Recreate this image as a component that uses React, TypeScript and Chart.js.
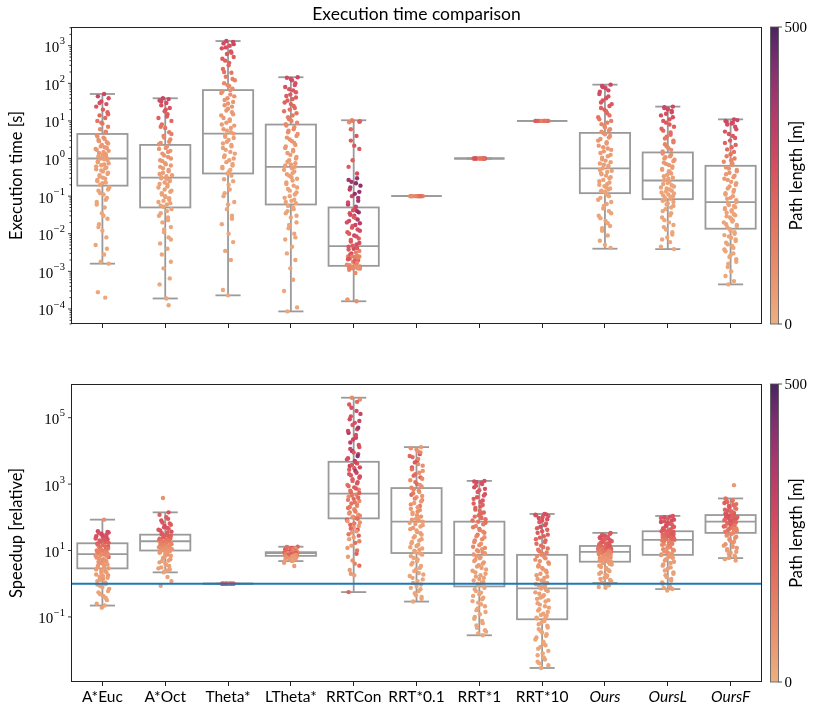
import React, { useEffect, useRef } from 'react';
import { Chart, registerables } from 'chart.js';

Chart.register(...registerables);

// ---------------- data ----------------
const CATEGORIES = ['A*Euc', 'A*Oct', 'Theta*', 'LTheta*', 'RRTCon', 'RRT*0.1', 'RRT*1', 'RRT*10', 'Ours', 'OursL', 'OursF'];
const ITALIC_CATEGORIES = ['Ours', 'OursL', 'OursF'];

// execution time box statistics [s]
const EXEC_LOW = [0.0016, 1.9e-4, 2.3e-4, 8.6e-5, 1.6e-4, 0.1, 1, 10, 0.004, 0.0039, 4.5e-4];
const EXEC_Q1 = [0.19, 0.05, 0.4, 0.06, 0.0014, 0.1, 1, 10, 0.12, 0.083, 0.0136];
const EXEC_MED = [1.0, 0.31, 4.6, 0.6, 0.0047, 0.1, 1, 10, 0.55, 0.26, 0.069];
const EXEC_Q3 = [4.5, 2.3, 66, 8, 0.05, 0.1, 1, 10, 4.8, 1.45, 0.64];
const EXEC_HIGH = [52, 40, 1330, 145, 10.4, 0.1, 1, 10, 92, 24, 11];

// speedup box statistics [relative]
const SPEED_LOW = [0.22, 2.2, 1, 4.8, 0.56, 0.29, 0.028, 0.0029, 1.05, 0.69, 5.9];
const SPEED_Q1 = [2.9, 10, 1, 6.9, 93, 8.4, 0.83, 0.085, 4.6, 7.4, 34];
const SPEED_MED = [7.8, 19, 1, 8.3, 520, 74, 7.4, 0.72, 9.1, 21, 74];
const SPEED_Q3 = [16.5, 30, 1, 8.9, 4700, 760, 74, 7.4, 13.7, 38, 117];
const SPEED_HIGH = [85, 141, 1, 13, 4e5, 13000, 1250, 126, 34, 110, 370];

const BASELINE_SPEEDUP = 1;

// tick exponents
const EXEC_MAJOR_EXP = [-4, -3, -2, -1, 0, 1, 2, 3];
const SPEED_MAJOR_EXP = [-1, 1, 3, 5];
const PATH_TICKS = [0, 500];
const PATH_MIN = 0;
const PATH_MAX = 500;

// sample points: [value, path length m]
const execAEuc: [number, number][] = [[52,290],[45,300],[40,270],[33,280],[28,260],[24,250],[20,230],[17,220],[14,200],[12,190],[10,170],[8.5,150],[7,130],[6,110],[5.2,100],[4.2,90],[3.6,80],[3.1,85],[2.7,70],[2.3,75],[2.0,60],[1.8,65],[1.6,55],[1.4,60],[1.25,50],[1.1,55],[1.0,45],[0.92,50],[0.8,45],[0.7,50],[0.62,40],[0.55,45],[0.48,40],[0.42,35],[0.36,40],[0.31,35],[0.27,38],[0.23,32],[0.2,35],[0.17,30],[0.14,32],[0.11,28],[0.09,30],[0.07,26],[0.05,28],[0.035,25],[0.025,27],[0.018,24],[0.012,26],[0.008,22],[0.005,24],[0.0028,22],[0.0018,25],[0.0016,20],[2.8e-4,22],[2e-4,20],
  [30,270],[15,210],[9,160],[5,120],[3.9,85],[3.3,70],[2.9,75],[2.5,65],[2.1,60],[1.9,55],[1.7,60],[1.5,50],[1.3,55],[1.15,45],[1.05,50],[0.95,42],[0.85,45],[0.75,40],[0.66,42],[0.58,38],[0.52,40],[0.45,36],[0.39,38],[0.33,34],[0.29,36],[0.25,32],[0.22,34],[0.15,30],[0.12,32],[0.08,28],[0.06,30],[0.03,26],[0.015,25],[0.004,22]];
const execAOct: [number, number][] = [[40,300],[38,290],[35,280],[30,270],[26,260],[22,250],[18,240],[15,230],[12,220],[10,200],[8,180],[6.5,160],[5,140],[4,120],[3.2,100],[2.6,90],[2.1,85],[1.8,75],[1.5,80],[1.2,65],[1.0,70],[0.85,60],[0.7,62],[0.6,55],[0.5,58],[0.42,50],[0.36,52],[0.32,45],[0.29,45],[0.25,40],[0.21,42],[0.18,38],[0.15,40],[0.13,35],[0.11,37],[0.095,33],[0.08,35],[0.07,30],[0.06,32],[0.052,30],[0.045,28],[0.035,30],[0.027,26],[0.02,28],[0.015,25],[0.011,27],[0.008,24],[0.0055,26],[0.004,23],[0.0028,25],[0.0018,22],[0.0012,24],[6.5e-4,22],[4.5e-4,20],[1.9e-4,22],[1.25e-4,20],
  [33,280],[20,250],[13,230],[7,170],[4.5,130],[3.6,105],[2.8,95],[2.4,88],[1.9,80],[1.6,70],[1.35,72],[1.1,65],[0.9,60],[0.75,58],[0.65,55],[0.55,52],[0.46,48],[0.39,46],[0.34,44],[0.3,42],[0.27,40],[0.23,40],[0.2,38],[0.17,37],[0.14,36],[0.12,35],[0.1,34],[0.088,33],[0.075,32],[0.065,31],[0.056,30],[0.04,29],[0.03,28],[0.023,27],[0.013,26],[0.007,25]];
const execTheta: [number, number][] = [[1330,290],[1250,300],[1150,280],[1000,260],[850,270],[700,250],[600,240],[500,230],[400,220],[300,200],[240,180],[190,160],[150,140],[120,120],[100,110],[85,100],[72,90],[60,85],[50,80],[40,85],[32,70],[26,75],[21,65],[17,60],[14,62],[11,55],[9,58],[7.5,50],[6,52],[5,45],[4.2,45],[3.5,42],[2.8,45],[2.3,40],[1.9,42],[1.5,38],[1.2,36],[1.0,38],[0.8,34],[0.65,35],[0.55,32],[0.45,33],[0.35,30],[0.28,32],[0.2,28],[0.15,30],[0.1,27],[0.07,28],[0.045,25],[0.03,27],[0.018,24],[0.01,26],[0.006,23],[0.0035,24],[0.002,22],[3.2e-4,22],[2.3e-4,20],
  [1100,290],[900,270],[650,250],[450,230],[350,210],[200,170],[130,130],[90,100],[65,90],[55,85],[45,80],[36,75],[29,72],[24,70],[19,65],[15,62],[12,58],[10,55],[8,52],[6.5,50],[5.5,48],[4.6,46],[3.8,44],[3.1,42],[2.5,40],[2.1,40],[1.7,38],[1.35,36],[1.1,35],[0.9,34],[0.72,33],[0.6,32],[0.5,31],[0.4,30],[0.25,28],[0.12,27],[0.06,26],[0.025,25]];
const execLTheta: [number, number][] = [[145,290],[140,280],[120,270],[100,260],[80,260],[65,250],[50,240],[42,230],[35,220],[28,210],[22,190],[18,170],[14,150],[11,130],[9,110],[7.5,100],[6,90],[5,85],[4,80],[3.2,75],[2.6,70],[2.1,65],[1.7,62],[1.4,58],[1.1,55],[0.9,50],[0.75,48],[0.65,45],[0.55,45],[0.45,42],[0.38,40],[0.32,38],[0.26,40],[0.21,36],[0.17,35],[0.14,34],[0.11,33],[0.09,32],[0.075,30],[0.065,31],[0.055,30],[0.045,28],[0.035,29],[0.027,27],[0.02,28],[0.014,26],[0.01,27],[0.007,25],[0.0045,26],[0.003,24],[0.002,25],[0.0012,23],[6e-4,24],[3e-4,22],[1.1e-4,23],[8.6e-5,22],
  [130,280],[90,260],[70,250],[58,240],[46,230],[38,220],[31,210],[25,200],[20,180],[16,160],[12.5,140],[10,120],[8.2,105],[6.8,95],[5.5,88],[4.5,82],[3.6,76],[2.9,72],[2.3,66],[1.9,62],[1.55,58],[1.25,55],[1.0,52],[0.82,48],[0.7,46],[0.6,44],[0.5,42],[0.41,40],[0.35,38],[0.29,37],[0.23,36],[0.19,35],[0.155,34],[0.125,33],[0.1,32],[0.08,31],[0.07,30],[0.05,29],[0.04,28],[0.03,28],[0.017,27],[0.008,26]];
const execRRTCon: [number, number][] = [[10.4,120],[9.8,200],[9.2,100],[4,250],[3,230],[1.8,240],[0.9,220],[0.4,260],[0.27,380],[0.22,420],[0.17,360],[0.13,400],[0.1,300],[0.075,390],[0.06,340],[0.045,270],[0.04,380],[0.035,250],[0.03,300],[0.026,140],[0.022,280],[0.019,330],[0.016,220],[0.013,260],[0.011,240],[0.009,300],[0.0075,230],[0.0062,250],[0.0052,260],[0.0045,250],[0.004,280],[0.0035,120],[0.003,260],[0.0026,110],[0.0025,120],[0.0024,140],[0.0022,240],[0.002,230],[0.0018,130],[0.0016,210],[0.0015,110],[0.00135,120],[0.0013,100],[0.00125,110],[0.0012,130],[0.00122,90],[0.00128,110],[0.0011,120],[0.0009,100],[1.8e-4,60],[1.6e-4,90],
  [10,140],[9.5,230],[6,200],[2.2,250],[0.6,240],[0.3,400],[0.24,380],[0.19,420],[0.15,330],[0.115,410],[0.09,360],[0.068,280],[0.052,300],[0.042,260],[0.037,400],[0.032,280],[0.028,240],[0.024,350],[0.02,270],[0.017,300],[0.0145,250],[0.012,280],[0.01,230],[0.0085,260],[0.0068,240],[0.0057,270],[0.0048,230],[0.0042,250],[0.0038,240],[0.0032,130],[0.0028,250],[0.0025,100],[0.0025,130],[0.0023,120],[0.0021,250],[0.0019,230],[0.0017,120],[0.00145,100],[0.0014,120],[0.00132,90],[0.00127,130],[0.00118,100],[0.0012,110],[0.00125,80]];
const execRRT01: [number, number][] = [[0.1,120],[0.1,150],[0.1,100],[0.1,170],[0.1,130],[0.1,110],[0.1,160],[0.1,90],[0.1,140],[0.1,120],[0.1,180],[0.1,100]];
const execRRT1: [number, number][] = [[1,200],[1,240],[1,160],[1,220],[1,180],[1,250],[1,150],[1,210],[1,230],[1,170],[1,260],[1,190]];
const execRRT10: [number, number][] = [[10,180],[10,220],[10,140],[10,200],[10,160],[10,240],[10,130],[10,190],[10,210],[10,150],[10,230],[10,170]];
const execOurs: [number, number][] = [[92,290],[85,300],[75,280],[60,270],[45,260],[35,250],[28,240],[22,220],[18,200],[14,170],[11,150],[9,130],[7.5,110],[6,95],[5.2,85],[4.4,80],[3.6,70],[3,72],[2.5,62],[2,65],[1.7,55],[1.4,58],[1.15,50],[0.95,52],[0.8,45],[0.68,48],[0.6,42],[0.5,42],[0.44,40],[0.38,38],[0.32,40],[0.27,36],[0.23,35],[0.2,34],[0.17,33],[0.15,32],[0.135,31],[0.125,30],[0.11,30],[0.09,29],[0.07,28],[0.055,27],[0.04,28],[0.03,26],[0.022,27],[0.016,25],[0.012,26],[0.009,24],[0.0065,25],[0.005,23],[0.0042,22],
  [80,290],[65,280],[52,270],[40,260],[31,250],[25,240],[20,220],[16,190],[12.5,160],[10,140],[8.2,120],[6.8,100],[5.6,90],[4.8,84],[4,78],[3.3,72],[2.7,66],[2.2,62],[1.85,58],[1.55,55],[1.25,52],[1.05,50],[0.88,47],[0.74,45],[0.64,43],[0.55,42],[0.47,40],[0.41,39],[0.35,38],[0.3,37],[0.25,36],[0.21,35],[0.185,34],[0.16,33],[0.14,32],[0.13,31],[0.1,30],[0.08,29],[0.062,28],[0.047,27],[0.035,27],[0.026,26],[0.019,25],[0.014,25]];
const execOursL: [number, number][] = [[24,290],[22,300],[20,280],[17,270],[14,260],[11,250],[9,240],[7,220],[5.5,200],[4.3,180],[3.4,150],[2.7,130],[2.1,110],[1.7,95],[1.35,85],[1.15,75],[1.0,70],[0.85,62],[0.72,58],[0.62,52],[0.53,50],[0.46,45],[0.4,46],[0.34,42],[0.29,40],[0.24,38],[0.21,36],[0.18,37],[0.16,34],[0.14,35],[0.125,33],[0.11,32],[0.1,33],[0.09,31],[0.085,30],[0.075,30],[0.065,29],[0.055,28],[0.045,29],[0.035,27],[0.027,28],[0.02,26],[0.015,27],[0.011,25],[0.008,26],[0.006,24],[0.0045,23],[0.0039,22],
  [23,290],[21,280],[18.5,280],[15.5,270],[12.5,260],[10,250],[8,230],[6.2,210],[4.9,190],[3.8,160],[3,140],[2.4,120],[1.9,100],[1.55,90],[1.25,80],[1.08,74],[0.93,66],[0.78,60],[0.67,55],[0.57,51],[0.5,48],[0.43,46],[0.37,44],[0.31,41],[0.27,39],[0.225,37],[0.195,36],[0.17,35],[0.15,34],[0.133,33],[0.118,32],[0.105,32],[0.095,31],[0.08,30],[0.07,29],[0.06,29],[0.05,28],[0.04,28],[0.031,27],[0.023,26],[0.017,26],[0.013,25],[0.0095,25],[0.007,24]];
const execOursF: [number, number][] = [[11,290],[10,300],[9,280],[8,270],[6,260],[4.5,250],[3.5,240],[2.6,220],[2,200],[1.5,170],[1.15,140],[0.9,110],[0.75,95],[0.58,85],[0.5,75],[0.42,70],[0.35,62],[0.29,58],[0.24,52],[0.2,50],[0.16,46],[0.13,44],[0.11,42],[0.09,40],[0.078,38],[0.062,37],[0.055,36],[0.048,35],[0.042,34],[0.036,33],[0.031,32],[0.027,32],[0.023,31],[0.02,30],[0.017,30],[0.015,29],[0.012,29],[0.01,28],[0.0085,28],[0.007,27],[0.0058,27],[0.0047,26],[0.0038,26],[0.003,25],[0.0024,25],[0.0018,24],[0.0013,24],[0.001,23],[7.5e-4,23],[5.5e-4,22],[4.5e-4,22],
  [10.5,290],[9.5,290],[8.5,280],[7,270],[5.2,250],[4,240],[3,230],[2.3,210],[1.75,190],[1.3,160],[1.0,130],[0.82,100],[0.67,90],[0.54,80],[0.46,72],[0.38,66],[0.32,60],[0.27,55],[0.22,51],[0.18,48],[0.145,45],[0.12,43],[0.1,41],[0.085,39],[0.07,38],[0.058,37],[0.051,36],[0.045,35],[0.039,34],[0.033,33],[0.029,32],[0.025,31],[0.021,31],[0.018,30],[0.016,30],[0.0135,29],[0.011,29],[0.0092,28],[0.0078,28],[0.0064,27],[0.0052,27],[0.0042,26],[0.0034,26],[0.0027,25],[0.0021,25],[0.0016,24]];

const spdAEuc: [number, number][] = [[85,90],[38,280],[35,260],[32,300],[30,250],[27,270],[25,240],[22,260],[20,230],[18,220],[16,240],[14.5,180],[13,260],[12,150],[11,220],[10,120],[9.5,200],[9,100],[8.5,160],[8,90],[7.5,110],[7,80],[6.4,200],[5.8,70],[5.2,100],[4.7,60],[4.2,90],[3.8,50],[3.4,80],[3.1,50],[2.7,50],[2.4,70],[2.1,40],[1.8,60],[1.6,45],[1.4,70],[1.2,40],[1.0,55],[0.85,35],[0.7,50],[0.55,30],[0.42,45],[0.32,30],[0.25,40],[0.22,30],[0.19,40],
  [36,270],[33,250],[29,280],[26,260],[23,250],[21,240],[19,230],[17,220],[15,200],[13.5,190],[12.5,170],[11.5,160],[10.5,140],[9.8,150],[9.2,120],[8.7,110],[8.2,130],[7.8,100],[7.2,90],[6.8,95],[6.1,80],[5.5,85],[5,70],[4.5,75],[4,65],[3.6,60],[3.2,58],[2.9,55],[2.5,52],[2.2,50],[1.9,48],[1.7,46],[1.5,44],[1.3,42],[1.1,40],[0.95,38],[0.8,36],[0.6,34],[0.48,32],[0.37,30]];
const spdAOct: [number, number][] = [[380,80],[141,250],[120,220],[100,230],[80,260],[65,240],[55,270],[48,250],[42,230],[37,260],[33,240],[29,220],[27,250],[25,200],[23.5,230],[22,170],[21,210],[20,130],[19.5,190],[18.5,150],[17,90],[16,160],[15,80],[14,120],[13,70],[12,100],[11,60],[10.5,90],[10,55],[9.5,60],[8.5,50],[7.5,80],[6.5,45],[5.5,60],[4.8,40],[4,55],[3.4,40],[2.9,45],[2.5,35],[2.2,40],[1.2,35],[0.87,40],
  [90,240],[70,250],[60,230],[50,260],[45,240],[40,250],[35,230],[31,240],[28,220],[26,230],[24,210],[22.5,200],[21.5,180],[20.5,170],[19,160],[18,150],[17.5,140],[16.5,130],[15.5,120],[14.5,110],[13.5,100],[12.5,95],[11.5,85],[11,80],[10.2,75],[9.8,70],[9,65],[8,60],[7,55],[6,50],[5,48],[4.4,45],[3.7,42],[3.1,40],[2.7,38],[2.35,36],[1.6,34]];
const spdTheta: [number, number][] = [[1,230],[1,260],[1,200],[1,280],[1,240],[1,210],[1,270],[1,220],[1,250],[1,190],[1,260],[1,230]];
const spdLTheta: [number, number][] = [[13,200],[12.5,110],[12,230],[11.5,90],[11,250],[10.5,120],[10,220],[9.6,260],[9.3,80],[9.1,240],[8.9,200],[8.7,100],[8.5,270],[8.4,150],[8.3,230],[8.2,90],[8.0,250],[7.8,120],[7.6,220],[7.4,80],[7.2,200],[7.0,100],[6.9,140],[6.7,70],[6.4,90],[6.0,60],[5.6,80],[5.2,50],[4.8,60],[3.4,50],
  [12.8,180],[11.8,240],[10.8,130],[9.8,200],[9.4,110],[9.0,250],[8.8,90],[8.6,220],[8.45,120],[8.35,260],[8.25,80],[8.1,200],[7.9,140],[7.7,230],[7.5,90],[7.3,210],[7.1,70],[6.8,110],[6.6,60],[6.2,80],[5.8,55],[5.4,65],[5.0,50],[4.3,55]];
const spdRRTCon: [number, number][] = [[4e5,110],[3.5e5,90],[2.5e5,240],[1.6e5,280],[1.1e5,260],[8e4,300],[6e4,250],[4.5e4,270],[3.5e4,380],[2.5e4,290],[1.8e4,330],[1.3e4,260],[1e4,400],[8e3,300],[6e3,280],[5e3,350],[4200,260],[3500,300],[3000,240],[2500,380],[2000,250],[1700,280],[1400,230],[1150,270],[950,150],[800,240],[680,120],[580,210],[480,130],[420,90],[360,200],[310,80],[260,170],[220,70],[190,160],[160,60],[140,150],[120,70],[105,50],[95,140],[85,230],[70,80],[60,200],[50,60],[42,250],[35,70],[28,210],[22,50],[17,180],[12,60],[8,220],[5,80],[3.5,180],[2,60],[1.8,40],[0.56,200],
  [3e5,200],[2e5,260],[1.3e5,300],[9e4,280],[7e4,260],[5e4,380],[4e4,290],[3e4,270],[2.2e4,300],[1.5e4,260],[1.15e4,290],[9e3,250],[7e3,420],[5.5e3,260],[4.6e3,290],[3.8e3,250],[3.2e3,270],[2.7e3,230],[2.2e3,300],[1.85e3,240],[1.55e3,260],[1.25e3,220],[1.05e3,250],[870,200],[740,230],[630,180],[540,210],[450,160],[390,190],[335,140],[285,170],[240,120],[205,150],[175,100],[150,130],[130,90],[112,110],[100,80],[90,180],[77,70],[65,150],[55,60],[46,200],[38,60],[31,150],[25,50],[19,120],[14,50],[10,160],[6.5,50],[4,120],[2.6,50]];
const spdRRT01: [number, number][] = [[13000,60],[12000,90],[10000,70],[8000,260],[6500,200],[5000,280],[4000,100],[3200,240],[2500,70],[2000,180],[1600,220],[1300,80],[1000,200],[850,90],[700,110],[580,70],[480,200],[400,60],[330,100],[270,50],[220,150],[180,60],[150,90],[125,50],[105,80],[90,45],[80,70],[68,50],[58,40],[48,60],[40,38],[33,50],[27,35],[22,45],[18,35],[15,40],[12.5,30],[10.5,38],[9,30],[7.5,35],[6,30],[4.8,38],[3.8,28],[3,34],[2.4,30],[1.9,28],[1.5,32],[1.2,26],[0.95,30],[0.75,26],[0.6,28],[0.45,25],[0.35,26],[0.29,25],
  [11000,80],[9000,100],[7000,200],[5700,120],[4500,240],[3600,90],[2800,160],[2200,80],[1800,200],[1450,100],[1150,180],[950,80],[780,120],[640,90],[530,150],[440,70],[365,110],[300,60],[245,90],[200,55],[165,80],[138,50],[115,70],[98,48],[85,60],[74,45],[63,55],[53,42],[44,50],[36,40],[30,45],[24.5,38],[20,42],[16.5,36],[13.7,40],[11.5,34],[9.8,36],[8.2,32],[6.8,34],[5.4,30],[4.3,32],[3.4,28],[2.7,30],[2.1,27],[1.7,29],[1.35,26],[1.05,28],[0.85,25],[0.68,27],[0.52,25],[0.4,26]];
const spdRRT1: [number, number][] = [[1250,260],[1150,280],[1000,250],[800,270],[650,230],[500,260],[400,240],[320,250],[260,220],[210,230],[170,200],[140,210],[115,180],[95,190],[80,170],[68,180],[55,100],[45,170],[37,90],[30,150],[25,80],[20,130],[16,70],[13,110],[11,60],[9.5,90],[8.3,55],[6.8,60],[5.8,50],[4.8,55],[4,45],[3.3,50],[2.7,40],[2.2,45],[1.8,38],[1.5,40],[1.25,35],[1.05,38],[0.9,33],[0.75,35],[0.6,30],[0.48,33],[0.38,28],[0.3,30],[0.24,27],[0.18,28],[0.14,25],[0.1,27],[0.075,25],[0.055,26],[0.04,24],[0.032,25],[0.028,24],
  [1200,270],[1080,260],[900,250],[720,260],[580,240],[450,250],[360,230],[290,240],[235,210],[190,220],[155,190],[128,200],[105,170],[88,180],[74,160],[62,150],[50,140],[41,130],[34,120],[27,110],[22,100],[18,95],[14.5,90],[12,85],[10.2,80],[8.8,75],[7.6,70],[6.3,65],[5.3,60],[4.4,55],[3.6,52],[3,48],[2.45,45],[2,42],[1.65,40],[1.38,38],[1.15,36],[0.98,35],[0.82,34],[0.68,33],[0.54,32],[0.43,31],[0.34,30],[0.27,29],[0.21,28],[0.16,27],[0.12,26],[0.088,25],[0.065,25],[0.047,24],[0.036,24]];
const spdRRT10: [number, number][] = [[126,260],[120,280],[110,240],[95,270],[80,250],[65,230],[52,260],[42,220],[34,240],[27,210],[22,200],[18,190],[14,180],[11.5,160],[9.5,140],[8,120],[6.8,100],[5.8,80],[4.8,90],[4,70],[3.3,75],[2.7,60],[2.2,65],[1.8,55],[1.5,58],[1.25,50],[1.05,52],[0.9,45],[0.8,48],[0.65,42],[0.55,40],[0.45,42],[0.38,38],[0.32,36],[0.26,37],[0.21,34],[0.17,35],[0.14,32],[0.115,33],[0.1,30],[0.09,31],[0.075,30],[0.06,29],[0.048,28],[0.038,29],[0.03,27],[0.024,28],[0.018,26],[0.014,27],[0.011,25],[0.008,26],[0.006,24],[0.0045,25],[0.0035,23],[0.0029,24],
  [123,270],[115,260],[102,250],[88,260],[72,240],[58,250],[47,230],[38,240],[30,220],[24.5,210],[20,200],[16,190],[12.7,170],[10.5,150],[8.7,130],[7.4,110],[6.3,95],[5.3,85],[4.4,80],[3.6,72],[3,68],[2.45,62],[2,58],[1.65,55],[1.38,52],[1.15,50],[0.97,48],[0.85,46],[0.72,44],[0.6,42],[0.5,40],[0.41,39],[0.35,37],[0.29,36],[0.235,35],[0.19,34],[0.155,33],[0.125,32],[0.108,31],[0.095,30],[0.082,30],[0.068,29],[0.054,28],[0.043,28],[0.034,27],[0.027,27],[0.021,26],[0.016,26],[0.0125,25],[0.0095,25],[0.007,24],[0.0052,24],[0.004,23]];
const spdOurs: [number, number][] = [[34,250],[30,230],[27,260],[25,220],[23,270],[21,240],[19,210],[17.5,250],[16,200],[15,230],[14,190],[13.5,230],[13,160],[12.5,250],[12,140],[11.5,210],[11,200],[10.5,120],[10,240],[9.6,150],[9.3,190],[8.8,120],[8.4,90],[8,110],[7.5,80],[7,100],[6.5,70],[6,90],[5.6,60],[5.2,80],[4.8,60],[4.4,60],[4,50],[3.5,55],[3,45],[2.6,50],[2.2,40],[1.9,50],[1.6,45],[1.4,40],[1.2,45],[1.05,40],[0.9,35],[0.8,40],[0.75,35],
  [32,240],[28,250],[26,230],[24,260],[22,220],[20,250],[18,230],[16.5,240],[15.5,210],[14.5,220],[13.8,200],[13.2,240],[12.8,180],[12.2,230],[11.8,170],[11.2,220],[10.8,150],[10.2,200],[9.8,130],[9.4,170],[9.0,110],[8.6,140],[8.2,100],[7.8,120],[7.2,90],[6.8,85],[6.2,80],[5.8,75],[5.4,70],[5,65],[4.6,60],[4.2,55],[3.8,52],[3.2,50],[2.8,48],[2.4,45],[2.0,42],[1.75,40],[1.5,38],[1.3,36],[1.1,35],[0.95,34]];
const spdOursL: [number, number][] = [[110,250],[100,270],[90,230],[80,260],[72,280],[65,240],[58,250],[52,220],[47,260],[43,230],[40,210],[36,240],[34,200],[32,250],[30,190],[28,230],[26.5,180],[25,220],[23.5,170],[22,210],[20,140],[18.5,100],[17,160],[15.5,90],[14,130],[12.5,80],[11,110],[10,70],[9,90],[8.2,60],[7.6,80],[7,60],[6,50],[5,60],[4.2,45],[3.5,50],[2.8,40],[2.2,45],[1.8,38],[1.4,40],[1.1,35],[0.9,38],[0.75,33],[0.69,35],[0.62,32],
  [105,260],[95,240],[85,270],[76,250],[68,260],[62,230],[55,260],[50,240],[45,250],[41,220],[38,240],[35,230],[33,210],[31,240],[29,200],[27,220],[25.5,190],[24,210],[22.5,180],[21,200],[19,150],[17.5,130],[16,140],[14.8,110],[13.3,120],[12,95],[10.5,100],[9.5,80],[8.6,85],[7.8,70],[7.3,65],[6.5,60],[5.5,55],[4.6,50],[3.8,48],[3.1,45],[2.5,42],[2,40],[1.6,38],[1.25,36],[1.0,35],[0.82,34]];
const spdOursF: [number, number][] = [[930,60],[370,140],[330,120],[290,200],[250,170],[220,230],[190,150],[170,210],[150,250],[135,220],[125,260],[112,240],[105,210],[100,270],[95,200],[90,250],[86,230],[82,190],[78,260],[70,220],[65,170],[60,240],[55,150],[50,210],[46,130],[42,200],[39,110],[36,100],[32,110],[28,80],[24,100],[20,70],[17,80],[14,60],[12,70],[10,50],[8.5,60],[7,45],[6,50],[5,40],
  [350,180],[310,160],[270,220],[235,190],[205,240],[180,170],[160,230],[142,200],[130,250],[118,230],[108,260],[102,220],[97,250],[92,210],[88,240],[84,200],[80,230],[75,250],[72,210],[68,190],[63,230],[58,160],[53,200],[48,140],[44,180],[40,120],[37,160],[34,110],[30,100],[26,90],[22,85],[18.5,75],[15.5,70],[13,60],[11,55],[9.2,50],[7.8,48],[6.5,45],[5.5,42]];

const EXEC_POINTS = [execAEuc, execAOct, execTheta, execLTheta, execRRTCon, execRRT01, execRRT1, execRRT10, execOurs, execOursL, execOursF];
const SPEED_POINTS = [spdAEuc, spdAOct, spdTheta, spdLTheta, spdRRTCon, spdRRT01, spdRRT1, spdRRT10, spdOurs, spdOursL, spdOursF];

// horizontal jitter (category units) for the strip points
const JITTER = [0.03,-0.08,0.11,-0.02,0.07,-0.11,0.01,0.09,-0.05,0.05,-0.09,0.0,0.1,-0.04,0.06,-0.1,0.02,-0.07,0.08,-0.01,0.04,-0.12,0.11,-0.06,0.0,0.07,-0.03,0.09,-0.08,0.03,-0.11,0.05,-0.02,0.1,-0.05,0.01,-0.09,0.06,-0.04,0.12,-0.07,0.02,0.08,-0.1,0.04,-0.01,0.09,-0.06,0.0,0.07,-0.12,0.03,-0.03,0.11,-0.08,0.05,-0.05,0.1,-0.02,0.06,-0.09,0.04,-0.06,0.1,-0.03,0.08,-0.1,0.02,0.06,-0.07,0.01];
const JITTER_SCALE = 0.9;

// ---------------- style ----------------
const SANS = 'Lato, "Open Sans", "DejaVu Sans", sans-serif';
const SERIF = '"Liberation Serif", "DejaVu Serif", serif';
const BOX_COLOR = '#9a9a9a';
const SPINE = '#222222';
const FLARE: [number, string][] = [
  [0.0, '#EDAF80'], [0.15, '#EA9470'], [0.3, '#E57A62'], [0.45, '#DE5F5E'], [0.55, '#D34B61'],
  [0.65, '#BF3F67'], [0.75, '#A6376D'], [0.85, '#873070'], [0.93, '#682A6B'], [1.0, '#4B2462'],
];

function hexRgb(h: string) {
  return [parseInt(h.slice(1, 3), 16), parseInt(h.slice(3, 5), 16), parseInt(h.slice(5, 7), 16)];
}
function flare(t: number) {
  const v = Math.max(0, Math.min(1, t));
  for (let i = 1; i < FLARE.length; i++) {
    if (v <= FLARE[i][0]) {
      const [t0, c0] = FLARE[i - 1];
      const [t1, c1] = FLARE[i];
      const f = (v - t0) / (t1 - t0);
      const a = hexRgb(c0), b = hexRgb(c1);
      return `rgb(${Math.round(a[0] + (b[0] - a[0]) * f)},${Math.round(a[1] + (b[1] - a[1]) * f)},${Math.round(a[2] + (b[2] - a[2]) * f)})`;
    }
  }
  return FLARE[FLARE.length - 1][1];
}

type PanelCfg = {
  low: number[]; q1: number[]; med: number[]; q3: number[]; high: number[];
  majors: number[]; minors: boolean; yLabel: string; title?: string;
};

function line(ctx: CanvasRenderingContext2D, x0: number, y0: number, x1: number, y1: number) {
  ctx.beginPath(); ctx.moveTo(x0, y0); ctx.lineTo(x1, y1); ctx.stroke();
}

function makePlugin(cfg: PanelCfg) {
  return {
    id: 'panelDecor',
    beforeDatasetsDraw(chart: any) {
      const ctx: CanvasRenderingContext2D = chart.ctx;
      const xs = chart.scales.x, ys = chart.scales.y;
      const unit = xs.getPixelForValue(1) - xs.getPixelForValue(0);
      ctx.save();
      ctx.strokeStyle = BOX_COLOR;
      ctx.lineWidth = 1.8;
      CATEGORIES.forEach((_, i) => {
        const cx = xs.getPixelForValue(i);
        const yl = ys.getPixelForValue(cfg.low[i]);
        const y1 = ys.getPixelForValue(cfg.q1[i]);
        const ym = ys.getPixelForValue(cfg.med[i]);
        const y3 = ys.getPixelForValue(cfg.q3[i]);
        const yh = ys.getPixelForValue(cfg.high[i]);
        line(ctx, cx, y3, cx, yh);
        line(ctx, cx, y1, cx, yl);
        line(ctx, cx - 0.2 * unit, yh, cx + 0.2 * unit, yh);
        line(ctx, cx - 0.2 * unit, yl, cx + 0.2 * unit, yl);
        ctx.fillStyle = '#ffffff';
        ctx.fillRect(cx - 0.4 * unit, y3, 0.8 * unit, y1 - y3);
        ctx.strokeRect(cx - 0.4 * unit, y3, 0.8 * unit, y1 - y3);
        line(ctx, cx - 0.4 * unit, ym, cx + 0.4 * unit, ym);
      });
      ctx.restore();
    },
    afterDraw(chart: any) {
      const ctx: CanvasRenderingContext2D = chart.ctx;
      const ys = chart.scales.y;
      const { left, right, top, bottom } = chart.chartArea;
      ctx.save();
      // frame
      ctx.strokeStyle = SPINE;
      ctx.lineWidth = 1;
      ctx.strokeRect(Math.round(left) + 0.5, Math.round(top) + 0.5, Math.round(right - left) - 1, Math.round(bottom - top) - 1);
      // y ticks + labels
      ctx.fillStyle = '#000';
      ctx.lineWidth = 0.9;
      const lx = Math.round(left) + 0.5;
      cfg.majors.forEach((e) => {
        const y = ys.getPixelForValue(Math.pow(10, e));
        line(ctx, lx, y, lx - 3.5, y);
        const expStr = e < 0 ? '\u2212' + Math.abs(e) : String(e);
        ctx.font = `10.5px ${SERIF}`;
        const we = ctx.measureText(expStr).width;
        ctx.textBaseline = 'middle';
        ctx.textAlign = 'left';
        ctx.fillText(expStr, left - 6 - we, y - 4);
        ctx.font = `15px ${SERIF}`;
        ctx.textAlign = 'right';
        ctx.fillText('10', left - 6.5 - we, y + 2.5);
      });
      if (cfg.minors) {
        const lo = Math.floor(Math.log10(ys.min)), hi = Math.ceil(Math.log10(ys.max));
        for (let e = lo; e <= hi; e++) {
          for (let m = 2; m <= 9; m++) {
            const v = m * Math.pow(10, e);
            if (v < ys.min || v > ys.max) continue;
            const y = ys.getPixelForValue(v);
            line(ctx, lx, y, lx - 2, y);
          }
        }
      }
      // y axis label
      ctx.save();
      ctx.translate(17, (top + bottom) / 2);
      ctx.rotate(-Math.PI / 2);
      ctx.font = `16.5px ${SANS}`;
      ctx.textAlign = 'center';
      ctx.textBaseline = 'middle';
      ctx.fillText(cfg.yLabel, 0, 0);
      ctx.restore();
      // title
      if (cfg.title) {
        ctx.font = `17.5px ${SANS}`;
        ctx.textAlign = 'center';
        ctx.textBaseline = 'middle';
        ctx.fillText(cfg.title, (left + right) / 2, 14);
      }
      // colorbar
      const cb0 = right + 8.5, cbW = 8;
      const grad = ctx.createLinearGradient(0, bottom, 0, top);
      FLARE.forEach(([t, c]) => grad.addColorStop(t, c));
      ctx.fillStyle = grad;
      ctx.fillRect(cb0, top, cbW, bottom - top);
      ctx.strokeStyle = '#555';
      ctx.lineWidth = 0.8;
      ctx.strokeRect(cb0, top, cbW, bottom - top);
      ctx.fillStyle = '#000';
      ctx.strokeStyle = SPINE;
      ctx.font = `15px ${SERIF}`;
      ctx.textAlign = 'left';
      ctx.textBaseline = 'middle';
      PATH_TICKS.forEach((p) => {
        const y = bottom - ((p - PATH_MIN) / (PATH_MAX - PATH_MIN)) * (bottom - top);
        line(ctx, cb0 + cbW, y, cb0 + cbW + 3.5, y);
        ctx.fillText(String(p), cb0 + cbW + 6, y + 1);
      });
      ctx.save();
      ctx.translate(797, (top + bottom) / 2);
      ctx.rotate(-Math.PI / 2);
      ctx.font = `16.5px ${SANS}`;
      ctx.textAlign = 'center';
      ctx.textBaseline = 'middle';
      ctx.fillText('Path length [m]', 0, 0);
      ctx.restore();
      ctx.restore();
    },
  };
}

function buildDatasets(points: [number, number][][]) {
  return points.map((pts, i) => ({
    type: 'scatter' as const,
    label: CATEGORIES[i],
    data: pts.map((p, j) => ({ x: i + JITTER[(j + i * 13) % JITTER.length] * JITTER_SCALE, y: p[0] })),
    pointBackgroundColor: pts.map((p) => flare((p[1] - PATH_MIN) / (PATH_MAX - PATH_MIN))),
    pointBorderWidth: 0,
    pointRadius: 2.2,
    order: 0,
  }));
}

function xScale(showLabels: boolean, height: number) {
  return {
    type: 'linear' as const,
    min: -0.5,
    max: 10.5,
    afterBuildTicks: (s: any) => { s.ticks = CATEGORIES.map((_, i) => ({ value: i })); },
    afterFit: (s: any) => { s.height = height; },
    border: { display: false },
    grid: { display: true, drawOnChartArea: false, drawTicks: true, tickLength: 4, color: SPINE, lineWidth: 1 },
    ticks: {
      display: showLabels,
      autoSkip: false,
      maxRotation: 0,
      padding: 2,
      color: '#000',
      callback: (v: any) => CATEGORIES[Math.round(Number(v))] ?? '',
      font: (c: any) => ({
        family: SANS,
        size: 15.5,
        style: ITALIC_CATEGORIES.includes(CATEGORIES[c.index]) ? ('italic' as const) : ('normal' as const),
      }),
    },
  };
}

function useChart(ref: React.RefObject<HTMLCanvasElement>, make: () => any) {
  useEffect(() => {
    if (!ref.current) return;
    const chart = new Chart(ref.current, make());
    return () => chart.destroy();
  }, []);
}

export default function App() {
  const topRef = useRef<HTMLCanvasElement>(null);
  const botRef = useRef<HTMLCanvasElement>(null);

  useChart(topRef, () => ({
    type: 'scatter',
    data: { datasets: buildDatasets(EXEC_POINTS) },
    options: {
      animation: false,
      responsive: false,
      maintainAspectRatio: false,
      devicePixelRatio: 1,
      layout: { padding: { left: 71, right: 54, top: 27, bottom: 0 } },
      plugins: { legend: { display: false }, tooltip: { enabled: false } },
      scales: {
        x: xScale(false, 26),
        y: { type: 'logarithmic', min: Math.pow(10, -4.4), max: Math.pow(10, 3.497), display: false },
      },
    },
    plugins: [makePlugin({
      low: EXEC_LOW, q1: EXEC_Q1, med: EXEC_MED, q3: EXEC_Q3, high: EXEC_HIGH,
      majors: EXEC_MAJOR_EXP, minors: true, yLabel: 'Execution time [s]', title: 'Execution time comparison',
    })],
  }));

  useChart(botRef, () => ({
    type: 'scatter',
    data: {
      datasets: [
        ...buildDatasets(SPEED_POINTS),
        {
          type: 'line',
          label: 'baseline',
          data: [{ x: -0.5, y: BASELINE_SPEEDUP }, { x: 10.5, y: BASELINE_SPEEDUP }],
          borderColor: '#1f77b4',
          borderWidth: 2,
          pointRadius: 0,
          order: -1,
        },
      ],
    },
    options: {
      animation: false,
      responsive: false,
      maintainAspectRatio: false,
      devicePixelRatio: 1,
      layout: { padding: { left: 71, right: 54, top: 34, bottom: 0 } },
      plugins: { legend: { display: false }, tooltip: { enabled: false } },
      scales: {
        x: xScale(true, 24),
        y: { type: 'logarithmic', min: Math.pow(10, -2.96), max: Math.pow(10, 6.015), display: false },
      },
    },
    plugins: [makePlugin({
      low: SPEED_LOW, q1: SPEED_Q1, med: SPEED_MED, q3: SPEED_Q3, high: SPEED_HIGH,
      majors: SPEED_MAJOR_EXP, minors: false, yLabel: 'Speedup [relative]',
    })],
  }));

  return (
    <div style={{ position: 'absolute', left: 0, top: 0, width: 816, height: 706, background: '#fff' }}>
      <canvas ref={topRef} width={816} height={350} style={{ position: 'absolute', left: 0, top: 0, width: 816, height: 350 }} />
      <canvas ref={botRef} width={816} height={356} style={{ position: 'absolute', left: 0, top: 350, width: 816, height: 356 }} />
    </div>
  );
}
